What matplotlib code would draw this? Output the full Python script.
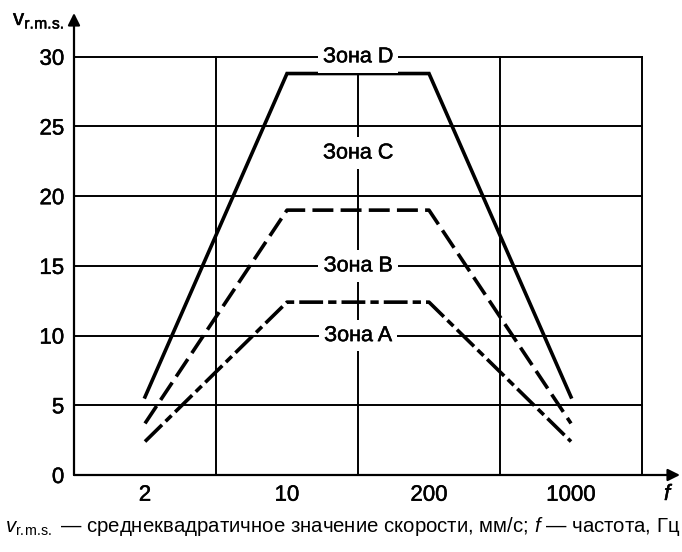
import matplotlib.pyplot as plt
import matplotlib.patheffects as pe

plt.rcParams['font.family'] = ['Liberation Sans', 'DejaVu Sans']
plt.rcParams['mathtext.fontset'] = 'custom'
plt.rcParams['mathtext.rm'] = 'Liberation Sans'
plt.rcParams['mathtext.it'] = 'Liberation Sans:italic'

# categorical frequency positions (equal spacing)
freq_labels = ['2', '10', '200', '1000']
freq_pos = [0.5, 1.5, 2.5, 3.5]

# zone boundaries, mm/s
boundary_cd = [5.6, 28.8, 28.8, 5.6]
boundary_bc = [3.7, 19.0, 19.0, 3.7]
boundary_ab = [2.4, 12.4, 12.4, 2.4]

zone_names = ['Зона D', 'Зона C', 'Зона B', 'Зона A']
zone_y = [30, 23.1, 15, 10]

yticks = [0, 5, 10, 15, 20, 25, 30]

heavy = [pe.withStroke(linewidth=0.35, foreground='k')]

fig = plt.figure(figsize=(6.82, 5.52), dpi=100)
ax = fig.add_axes([74 / 682, 1 - 475 / 552, (680 - 74) / 682, (475 - 13) / 552])
xmax = (680 - 74) / 142
ymax = (475 - 13) / 13.94
ax.set_xlim(0, xmax)
ax.set_ylim(0, ymax)
for s in ax.spines.values():
    s.set_visible(False)

# grid
for y in yticks[1:]:
    ax.plot([0, 4], [y, y], color='k', lw=1.4, zorder=1)
for x in [1, 2, 3, 4]:
    ax.plot([x, x], [0, 30], color='k', lw=1.4, zorder=1)

# axes with arrows
ax.annotate('', xy=(0, 1), xytext=(0, 0), xycoords='axes fraction',
            arrowprops=dict(arrowstyle='-|>', lw=1.6, color='k', mutation_scale=18,
                            shrinkA=0, shrinkB=0))
ax.annotate('', xy=(1, 0), xytext=(0, 0), xycoords='axes fraction',
            arrowprops=dict(arrowstyle='-|>', lw=1.6, color='k', mutation_scale=18,
                            shrinkA=0, shrinkB=0))

# boundaries
ax.plot(freq_pos, boundary_cd, color='k', lw=2.6, solid_joinstyle='miter', zorder=3)
ax.plot(freq_pos, boundary_bc, color='k', lw=2.6, dashes=(5.8, 2.0), zorder=3)
ax.plot(freq_pos, boundary_ab, color='k', lw=2.6, dashes=(6.6, 1.4, 2.3, 1.4), zorder=3)

for name, y in zip(zone_names, zone_y):
    ax.text(2, y, name, ha='center', va='center', fontsize=15.5, zorder=4,
            path_effects=heavy,
            bbox=dict(boxstyle='square,pad=0.25', fc='white', ec='none'))

ax.set_xticks(freq_pos)
ax.set_xticklabels(freq_labels)
ax.set_yticks(yticks)
ax.tick_params(length=0, labelsize=16)
ax.tick_params(axis='x', pad=7)
ax.tick_params(axis='y', pad=7)
for lab in ax.get_xticklabels() + ax.get_yticklabels():
    lab.set_path_effects(heavy)

sub = r'\mathrm{r.\!m.\!s.}'
fig.text(13 / 682, 1 - 25 / 552, r'v$_{' + sub + '}$', fontsize=16, ha='left',
         va='baseline', path_effects=heavy)
fig.text(664 / 682, 1 - 500 / 552, 'f', fontsize=16, style='italic', ha='left',
         va='baseline', path_effects=heavy)

fig.text(5 / 682, 1 - 532 / 552,
         r'$v_{' + sub + r'}$ — среднеквадратичное значение скорости, мм/с; $f$ — частота, Гц',
         fontsize=14.7, ha='left', va='baseline')

fig.savefig('out.png', dpi=100)
